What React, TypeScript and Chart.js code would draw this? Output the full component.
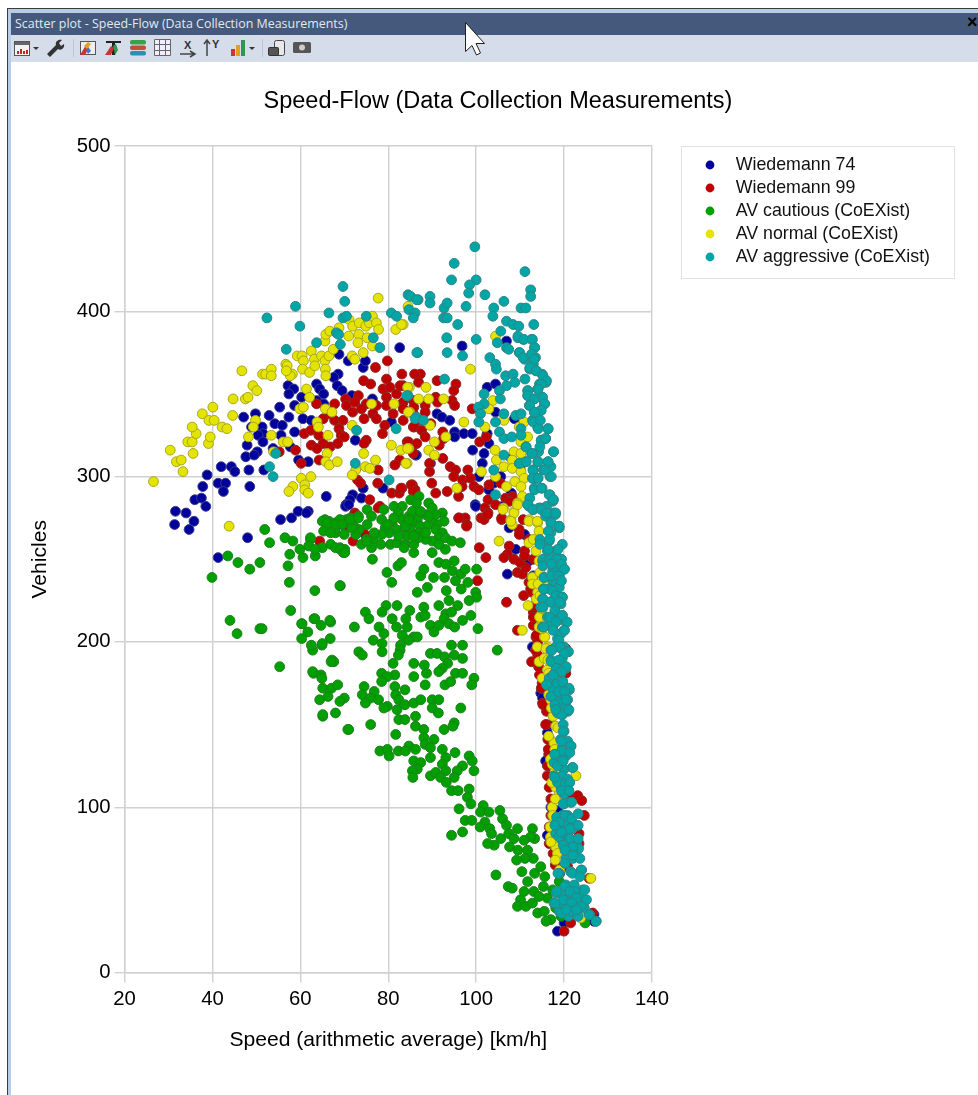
import React, { useEffect, useRef } from "react";
import { Chart, registerables } from "chart.js";

Chart.register(...registerables);

const chartTitle = "Speed-Flow (Data Collection Measurements)";
const windowTitle = "Scatter plot - Speed-Flow (Data Collection Measurements)";
const xAxisTitle = "Speed (arithmetic average) [km/h]";
const yAxisTitle = "Vehicles";
const seriesNames = ["Wiedemann 74", "Wiedemann 99", "AV cautious (CoEXist)", "AV normal (CoEXist)", "AV aggressive (CoEXist)"];

type P = [number, number];

const wiedemann74: P[] = [
[47.1,336],[49.8,338],[48.9,330],[52.9,337],[54.2,332],[51.3,330],[55.9,331],[55.3,342],[51.5,326],[50.4,325],[47.9,319],[51.5,321],[50.2,315],[47.6,312],[49.5,313],[58.7,327],[55.6,325],[53.8,317],[57.7,318],[59.6,310],[61.8,309],[57.2,355],[58.5,353],[57.4,350],[60.3,348],[58.7,343],[57.4,336],[60.6,335],[62.5,334],[63.7,356],[64.4,353],[65.3,350],[63.7,346],[65.3,344],[68.6,362],[67.6,360],[68.4,355],[69.5,352],[68.8,374],[70.9,370],[74.3,366],[74.8,370],[82.6,378],[71.7,349],[76.4,347],[42,306],[44.3,306],[45.1,303],[48.3,304],[51.7,304],[38.8,301],[41.3,296],[43,296],[42.5,291],[48.5,294],[37.8,294],[36,286],[37.5,287],[38.5,282],[31.6,279],[34,278],[35.8,273],[31.4,271],[34.7,268],[55.5,274],[58,275],[59.5,279],[61.8,279],[65.9,288],[71.9,289],[73.9,287],[71.3,286],[70.4,283],[78.8,293],[74.3,293],[72.5,322],[80.7,333],[86.4,313],[41.3,251],[48,263],[106.9,382],[96.8,379],[102.5,354],[104.4,356],[91.1,338],[92.2,336],[94,334],[95.1,327],[95.1,324],[97.2,326],[99.1,326],[99.2,316],[86.2,313],[89.6,308],[101.8,314],[101.4,308],[100.6,300],[105.6,300],[99.8,283],[102.9,292],[104.4,339],[108.7,335],[102.9,320],[102.5,326],[61.4,278],[70.3,282],[71,283],[99.9,282],[107.1,241],[107.5,269],[109,256],[112,249],[112.8,197],[114.7,169],[115.1,166],[116.2,145],[115.8,128],[118.5,98],[116.2,83],[118.5,73],[118.5,25],[120,30],[126.8,31],[126.8,35],[108,311],[110,305],[104,296],[108,290],[106,282],[111,265],[113,240],[115,210],[117,150],[118,115],[117,100],[119,60],
];

const wiedemann99: P[] = [
[77.1,366],[79.8,370],[74.4,358],[76,356],[79.6,359],[83.1,362],[87.3,362],[78.8,353],[80.4,354],[83.4,355],[81.9,350],[79.6,348],[73.2,349],[70.3,347],[70.5,343],[67.8,344],[72.4,345],[75,344],[77.3,343],[79.6,343],[83.4,345],[85.7,346],[66.7,338],[67.8,334],[65.2,335],[69.7,334],[71.9,339],[73.9,341],[76.5,338],[74.5,335],[77.3,335],[79.2,331],[81.1,338],[83.4,334],[85.7,338],[68.8,329],[69.3,325],[70,324],[78.7,326],[85.7,330],[60.9,326],[62.4,328],[64.2,325],[65.2,320],[63.7,344],[62.5,319],[63.8,317],[66.8,318],[68.5,320],[75,322],[74.5,320],[58.9,316],[55.2,315],[64.3,310],[60.2,308],[84.3,321],[85.5,318],[82.6,310],[81.5,307],[85.7,314],[77.7,304],[73,298],[73.7,296],[77.6,296],[80.8,290],[82.5,290],[83.1,293],[85.5,295],[86.1,292],[75.8,286],[78.1,282],[72.4,278],
[86,362],[91.1,358],[86.9,357],[95.4,356],[94.9,352],[82.7,355],[90.8,348],[94.5,346],[95.1,343],[91.2,345],[88.4,343],[85.8,342],[83.4,341],[88.4,339],[87.5,334],[89.7,332],[99.1,341],[85.9,330],[87.6,328],[88.4,324],[92.4,327],[92.6,323],[84.6,321],[86.5,320],[100.8,321],[102.3,324],[91.6,319],[89.4,308],[92.4,311],[89.4,303],[94.1,306],[95.3,304],[98.1,304],[94.9,300],[89.9,296],[96.9,298],[98.7,299],[96.8,294],[99.5,294],[100.6,292],[102.9,295],[105.6,296],[82.9,293],[85.2,295],[85.7,291],[90.8,290],[93.4,291],[96,288],[102.7,286],[102,281],[102.7,278],[101.1,275],[104.4,283],[105.8,275],[106.7,287],[108.2,288],[107.5,285],[96,275],[97.5,275],[97.9,271],[110.7,274],[109.8,268],
[96.1,275],[97.8,270],[101.8,274],[102.6,277],[105.8,274],[107.5,258],[107.1,253],[106.3,251],[108.6,250],[109.4,242],[110.5,241],[109.8,265],[111.3,245],[100.7,257],[102.2,251],[100.3,237],[106.9,224],[110.8,228],[112.4,232],[113.8,223],[113.9,215],[109.4,207],[113.6,203],[112.6,188],[114.7,180],[115.1,163],[116.6,142],[116.2,119],[123.1,107],[64.4,261],[72,261],[70.4,269],[72.3,277],[77.7,281],[74.7,265],[120,25],[121.5,30],[126.5,36],[124.6,95],[123.4,84],[123.4,78],[120.8,64],[121,108],[120.4,196],[120.4,181],[125.7,57],
[111,255],[110,248],[112,236],[113,218],[113,210],[114,200],[114,192],[115,175],[116,158],[116,150],[116.5,132],[117,125],[112,262],[113,250],[111,252],
[112.6,238],[113.3,222],[113.7,204],[114.4,180],[115.2,162],[116.3,141],[112.7,230],[113,215],[113.5,195],[114.2,185],[114.8,172],[115.8,150],[116.4,135],[116.2,125],[116.6,112],[117,105],[117,95],[116.6,88],[116.6,78],[117.5,72],[118,65],[124,104],
];

const avCautious: P[] = [
[66.9,267],[68,266],[66.5,273],[67.9,272],[69.4,272],[70.5,274],[71.4,275],[73.2,276],[75.2,280],[76.2,276],[75.2,271],[73.3,268],[72.2,270],[72.6,265],[75,262],[76.6,262],[78.5,274],[79,280],[81.3,282],[83.2,282],[85.1,286],[87,288],[86.4,284],[89.2,284],[90,281],[92.3,278],[92.7,273],[91.1,271],[88.5,277],[86.6,274],[84.7,276],[82.3,278],[80.9,272],[83.2,274],[85.5,272],[87.3,270],[89.2,271],[90.8,268],[92.3,266],[91.5,263],[90,261],[88.5,262],[87,266],[85,268],[83.6,269],[81.7,268],[80.2,266],[79.3,269],[78.5,265],[76.8,266],[78.3,259],[76.2,257],[73.9,259],[75.1,261],[80.5,259],[82,260],[83.9,259],[85.8,259],[83.6,257],[85.8,254],[86.8,263],[90,254],[93,263],[94.5,261],[96.4,260],[93,256],[91.5,259],[76.4,250],[66.9,259],[69,257],[69.8,254],[90,275],[85.5,279],[84.3,264],[82.4,264],[88.5,266],[90.8,277],[87.3,279],[89.2,276],[81.3,275],[79.8,271],[85.8,264],[83.9,270],[84.7,274],
[79.7,242],[80.8,236],[82.2,246],[83,248],[86.6,230],[88.9,233],[87.4,240],[88.1,244],[90.3,239],[91.5,248],[93.1,247],[95,249],[94.6,243],[96.5,241],[97.5,244],[92.8,239],[95.3,237],[96.6,232],[98.1,236],[100.1,244],[93.2,231],[99.9,230],[100.1,227],[98.4,225],[93.8,225],[95.8,222],[91.5,222],[88.1,221],[82,222],[79.5,222],[74.8,218],[78.6,218],[75.6,214],[80.9,214],[84.9,219],[84,214],[87.4,215],[88.4,216],[93.1,217],[94.4,218],[92.7,214],[98.8,216],[96.9,213],[89.6,210],[91.5,210],[90.4,206],[93.8,211],[95.1,209],[100.4,208],[77.9,209],[81.9,209],[84.3,209],[79,205],[83.2,204],[85.8,203],[86.6,203],[76.6,201],[78.6,199],[84.6,201],[82.8,198],[82.7,195],[82.3,192],[78.6,194],[94.4,198],[96.9,198],[104.8,195],[89.6,193],[91.1,193],[92.8,191],[95,192],[96.9,190],[93.5,187],[92.3,184],[91.5,182],[95.3,181],[96.9,181],[85.8,187],[88.2,186],[88.7,181],[85.8,179],[81.1,187],[81.5,180],[78.5,181],[79.8,179],[78.5,176],[88.4,174],[92.9,174],[94.2,176],[99.5,178],[99,174],[81.5,173],[83.8,171],[74.5,173],[76.8,170],[74.1,168],[76,166],[77.8,165],[74.8,163],[81.7,168],[82.4,165],[83.8,162],[85.8,163],[87.4,165],[90,165],[91.5,165],[90,160],[91.4,157],[79.8,161],[79,160],[82,159],[82.4,153],[83.8,153],[86.2,155],[86.2,149],[88.1,147],[92.7,147],[95,151],[94.7,149],[96.5,160],[81.7,144],[76,150],[70.8,147],[65.1,155],[68,157],[64.4,165],[70,166],[65.1,172],[67.1,172],[68.5,174],[63,181],[64.7,180],[67.2,189],[67.6,188],[62.8,195],[64.9,198],[66.8,202],[61.7,206],[60.4,211],[63.1,214],[66.9,212],[72.3,209],[73.3,194],[74.1,192],[69.1,234],
[88.1,142],[90.4,141],[88.4,138],[78.1,134],[79.8,135],[80.2,131],[82.3,134],[84.7,137],[83.9,134],[86.2,135],[85.8,128],[87.4,127],[86.6,123],[85.5,122],[85.6,118],[89.6,136],[89.6,130],[92.3,135],[93.1,130],[95.2,133],[98.4,131],[99.1,128],[99.5,122],[96.9,125],[95.7,122],[92.3,126],[89.6,119],[90.8,121],[93.1,122],[95,118],[91.9,118],[93.2,115],[94.4,110],[95.9,110],[98.4,111],[98,106],[98.8,102],[96.1,99],[101.6,101],[101,97],[102.9,97],[105.4,98],[106,93],[97.5,92],[99,92],[102,91],[100.9,88],[103.1,87],[103.5,84],[106.9,89],[109.4,87],[107.4,84],[105.6,81],[104.1,77],[102.6,78],[108.6,81],[107.6,76],[96.9,85],[94.4,83],[112.8,87],[113.3,81],[112.4,82],[110.9,80],[109.5,74],[111.7,74],[113,69],[111.1,69],[109.2,68],[110.4,61],[113.3,60],[114.7,64],[115.6,58],[104.5,59],[107.3,52],[108.2,51],[111.7,55],[110.9,49],[113.1,49],[115.3,52],[110.1,44],[109.4,40],[111.3,40],[112.8,42],[114,36],[115.5,37],[116.2,45],[117.4,50],[117,32],[115.9,31],[119.3,34],[118.9,55],[124.8,30],[118.1,39],[114.3,46],
[39.9,239],[43.5,252],[45.8,248],[48.5,244],[51.9,268],[53,260],[50.8,248],[56.5,263],[58.3,261],[57.6,253],[57.2,246],[57.5,236],[63.3,231],[69,234],[44,213],[45.6,205],[50.8,208],[51.3,208],[55.3,185],[57.8,219],[60.3,211],[63.3,214],[60.3,202],[64.7,210],[66.7,213],[62.5,198],[65,199],[67,188],[62.8,182],[64.9,178],[66.3,167],[65.1,156],[69,164],[71,147],[65.6,274],[69,274],[67.9,268],[70.1,256],[62.3,262],[65,257],[59.9,256],[68,257],[70,265],[71.7,269],[65,273],[66.1,272],[68,271],[69.5,271],[71.4,274],[73.2,275],[65.3,267],[66.9,266],[69.1,256],[70.1,254],[60.6,251],[63.4,252],[62.3,263],[61.9,258],[63.4,256],
];

const avNormal: P[] = [
[26.6,297],[30.4,316],[31.8,309],[32.9,310],[33.3,303],[34.4,321],[35.4,321],[35.6,314],[39.1,320],[39.5,324],[36.3,326],[35.4,330],[37.7,338],[39.2,334],[40.4,334],[40.1,342],[42.2,330],[43.3,329],[44.6,337],[44.7,347],[47.5,347],[48.1,348],[46.7,364],[49.2,355],[50.1,352],[51.4,362],[52.1,362],[53.4,365],[53.4,361],[48.2,324],[49.8,334],[49.3,330],[53.4,325],[56.1,321],[57.1,321],[53.9,315],[56.7,368],[57,367],[58.2,362],[57.7,361],[56.8,364],[59.3,373],[60.4,373],[60.7,370],[62.5,376],[60.5,365],[62.1,363],[63.2,371],[63.3,367],[64.8,373],[65.6,370],[66.5,373],[67.5,377],[65.6,382],[65.8,386],[66.7,388],[68.8,390],[71.1,395],[71.9,391],[73.4,393],[74.9,391],[75.7,393],[76.4,397],[77.3,393],[77.8,389],[71,385],[73.3,386],[75.2,384],[73.1,381],[76.4,379],[74.3,375],[71.8,373],[72.4,371],[65.7,365],[65.8,361],[77.7,408],[81.7,389],[83.4,392],[84.5,403],[61.4,353],[62.1,348],[59.9,341],[60.7,342],[65.7,341],[67.2,339],[63.8,333],[64.1,330],[66.3,325],[76.2,344],[81.3,344],[84.8,354],[84.9,339],[71.8,331],[66.1,314],[65.8,309],[66.6,307],[68.4,309],[74.4,314],[80.7,319],[82.9,316],[84.7,317],[84.3,308],[77.1,310],[74.8,306],[75.8,305],[72.6,304],[71.8,301],[60.2,299],[62.4,300],[58.3,294],[57.4,291],[61,295],[61,292],[61.8,290],[43.8,270],
[83,392],[98.7,365],[104.4,385],[88.6,354],[84.4,354],[86.9,347],[89.2,347],[92.6,347],[84.6,339],[97.2,333],[102,330],[89.5,331],[93.1,324],[90.5,321],[89.2,316],[84.4,317],[90.5,313],[84,308],[103.8,346],[102.9,341],[106.3,334],[104.3,316],[104.6,310],[108.6,315],[110.2,314],[108.2,310],[106.3,306],[108.2,305],[101.2,303],[104.4,300],[110.2,303],[110.9,299],[108.8,297],[106.9,294],[110.2,294],[95.6,293],[110.5,288],[109.4,284],[106.2,281],[108.6,279],[107.9,274],[112.1,274],[108.2,271],[114,272],[109.8,330],[110.9,333],[110.2,321],[111.7,324],
[106.1,280],[108.6,278],[109.4,283],[107.9,273],[112,273],[113.9,273],[114.3,267],[112,260],[113.6,255],[114.3,249],[112.8,239],[112.8,235],[115.8,235],[105.2,261],[111.8,222],[113.7,226],[114.7,216],[114.3,209],[110.5,207],[115.5,203],[113.9,197],[116.2,197],[114.3,188],[116.2,183],[116.2,174],[117,165],[118.1,149],[117.7,139],[116.9,129],[122.7,119],[118.1,112],[118.9,108],[117.7,92],[116.9,82],[118.1,76],[126.1,57],[123.8,33],[118.5,72],[118,122],[117.5,155],[116.5,168],[115,178],[115.5,190],[115,212],[114,230],[114.5,242],[113,262],[116.5,143],[117.3,100],[117.5,88],
[114.1,235],[113.7,226],[114.4,215],[115.6,203],[116.3,189],[116.7,173],[117.5,155],[118.6,148],[114.5,228],[115,220],[115,208],[115.9,196],[116.5,181],[117.1,160],[117.9,135],[117.3,126],[117.2,115],[118,105],[117.4,95],[116.8,88],[117,79],[118,68],[119,62],
];

const avAggressive: P[] = [
[69.7,415],[70.1,406],[58.9,403],[52.4,396],[59.9,391],[66.5,399],[69.7,396],[70.5,397],[75,397],[68.2,387],[68.7,386],[69.1,380],[63.7,381],[56.8,377],[76.6,384],[78.1,378],[80.7,399],[81.9,397],[84.5,410],[85.1,409],[86.8,407],[84.7,401],[86.1,399],[85.7,396],[86.7,375],[84.5,349],[86.4,336],[72.8,328],[81.8,329],[54.4,314],[53,306],[53.8,300],[72.5,308],[80.2,298],
[99.7,439],[95,429],[94.4,419],[100,419],[98.5,416],[98.3,411],[111.1,424],[112.4,413],[112.4,409],[102,410],[106.3,406],[89.5,409],[89.5,405],[86.5,407],[92.7,402],[93.4,405],[97.7,403],[104,402],[103.8,397],[110.2,402],[111.3,402],[92.6,396],[93.4,396],[95.8,392],[106.9,394],[108.4,392],[109.7,391],[113.1,392],[105.6,388],[93.3,384],[100,383],[104.8,381],[106.9,378],[107.4,377],[109.5,384],[110.7,383],[112.6,383],[93.4,375],[86.5,375],[96.9,373],[103.1,372],[104.4,368],[104.6,365],[109.8,375],[111,371],[113.3,378],[113.5,372],[113,368],[112.2,365],[113.6,364],[115,362],[92.8,359],[106.7,361],[108.4,362],[108.8,357],[111.1,359],[106.9,355],[115.9,357],[114.4,356],[114,353],[111.7,352],[105.3,352],[101.8,350],[105.5,347],[111.7,349],[84.2,349],[115,348],[113.2,347],[115.5,344],[112.1,343],[101.8,344],[100.5,342],[101,338],[106.3,338],[109,337],[110.2,338],[113.2,339],[114.7,340],[100.6,333],[104.4,333],[86.1,335],[88,334],[112.8,334],[114,330],[116.3,329],[110.2,329],[105.3,327],[106.3,323],[108.1,324],[110.2,325],[114.8,322],[115.8,323],[111.3,318],[112.6,314],[114.2,315],[117.6,315],[106.3,313],[111.3,309],[114,309],[116.3,309],[113,304],[115.3,304],[104,304],[117,306],[109.8,308],[112.8,299],[114,299],[116.8,300],[113.2,293],[115,293],[116.8,289],[117.6,286],[104.4,289],[112.2,287],[111.7,283],[113,280],[114.7,281],[116,282],[117.6,278],[116,277],[117,272],[118.8,270],
[112,282],[114.3,281],[117.4,285],[115.8,276],[118,277],[118.9,269],[114.7,260],[116.6,261],[118.1,255],[119.3,250],[115.1,249],[116.6,249],[120,244],[115.5,239],[118.1,243],[117.4,237],[118.9,240],[115.3,232],[118.1,231],[119.6,227],[115.1,226],[114.7,221],[117.4,225],[116.2,215],[119.6,216],[120.4,212],[115.1,209],[117.4,208],[120,207],[118.5,202],[120,197],[117,195],[119.3,196],[120.8,194],[117,189],[118.5,188],[120.4,184],[118.1,182],[119.3,181],[116.2,174],[117.4,177],[119.6,176],[121.2,171],[117.4,172],[117,167],[118.9,167],[120.8,165],[118.1,161],[120.9,158],[119.6,156],[120,146],[119.2,141],[121.5,137],[119.6,136],[118.1,132],[120.4,131],[117.7,127],[121.9,124],[120,123],[117.7,119],[120.4,114],[119.3,112],[121,110],[120,102],[121.5,103],[119.6,95],[118.1,90],[121.5,93],[122.7,89],[119.6,87],[118.1,84],[121,82],[122.9,79],[119.6,80],[121.5,76],[120.8,72],[123.3,75],[122,69],[118.9,60],[121.5,61],[124,62],[120.4,53],[122.3,53],[124.2,50],[118.2,48],[120,46],[117.7,42],[120.4,42],[122.3,44],[124.6,43],[118.9,37],[122.7,36],[124.6,39],[125.8,35],[127.3,31],[121,39],[121,34],
[117,266],[119.6,259],[116.2,255],[117.4,243],[116.6,232],[118.9,233],[119.3,223],[118.1,217],[118.5,213],[116.6,210],[119.3,205],[118.1,197],[119.6,190],[118.5,175],[120,172],[119.3,163],[120.4,161],[118.5,157],[120.8,140],[119.3,130],[118.5,125],[119.6,119],[118.5,115],[120.8,117],[120,108],[120.8,95],[120,91],[121.9,87],[118.9,82],[120.4,76],[122,74],[120.4,69],[119.3,48],[121.5,48],[123.4,46],[119.3,42],[123.4,39],
];

const avAggressiveUpperBand: P[] = [
[109.5,385],[110.9,383],[112.8,383],[113.3,378],[109.9,375],[110.7,372],[112.6,374],[113.2,371],[112.2,366],[113.7,364],[115.2,361],[116,358],[114.8,356],[114.1,353],[111.8,352],[111.8,349],[115.1,348],[113.3,347],[115.6,344],[112.2,343],[114.8,340],[113.3,339],[113,333],[114.6,334],[114.1,329],[116.4,329],[114.8,322],[115.8,323],[111.4,318],[114.5,318],[112.7,314],[117.6,315],[109.9,308],[111.4,309],[114.1,309],[116.4,309],[112.9,304],[115.6,304],[117.1,300],[112.9,299],[114.1,299],[113.3,292],[114.8,293],[116.6,289],[117.5,286],[111.8,283],[112.9,280],[114.8,280],[116,278],[118.1,278],[117.1,272],[118.9,270],[116.4,267],[114.5,262],[116.7,262],[114.5,259],[116.4,256],[118.6,256],[115.2,250],[116.7,250],[119.4,250],[118.3,250],
];

const avAggressiveMiddleBand: P[] = [
[115.2,246],[117.1,247],[119.4,247],[120.1,244],[115.4,239],[117.1,240],[118.8,240],[119.4,237],[115.4,232],[117.3,231],[118.2,228],[119.6,227],[115.2,226],[116.9,224],[119,224],[115.2,221],[117.9,219],[116.7,215],[119.6,216],[120.7,212],[118.2,212],[115.4,209],[117.5,207],[120.1,207],[118.8,201],[119.1,197],[117.2,195],[121,194],[120.1,193],[117.1,188],[118.8,189],[120.5,185],[118.2,184],[119.4,182],[116.6,178],[117.5,180],[119.7,176],[121.1,172],[116,174],[117.1,167],[118.8,170],[120.1,170],[117.9,162],[119.4,156],[121.1,159],[120.5,165],[118.1,159],[119.8,150],[119.8,146],[119.4,140],[121.6,137],[119.4,134],[121.3,133],[117.9,132],
];

const avAggressiveLowerBand: P[] = [
[117.9,132],[119.8,128],[122,124],[117.9,118],[120.2,114],[121.3,115],[119.4,110],[121.1,110],[119.8,102],[121.7,103],[118.3,94],[120.2,95],[121.7,93],[123.2,96],[123.2,89],[119,91],[121.3,87],[117.9,89],[119.4,85],[121.3,81],[123.2,81],[119.8,77],[122,76],[123.6,69],[122,71],[120.2,74],[120.2,66],[118.6,60],[121.9,60],[123.9,62],[123.6,58],[120.2,52],[122.4,49],[124.7,50],[118.3,49],[121.3,49],[122.8,45],[125.1,44],[119.8,44],[117.9,42],[121.7,42],[123.9,40],[119.4,36],[121.7,37],[123.2,34],[125.7,35],[127.3,31],[120.5,38],[122.8,38],
];

const fillColors = ["#00009c", "#c00000", "#00a000", "#e4e400", "#00a6a6"];
const edgeColors = ["#3a3a8a", "#8c2a2a", "#1f7f1f", "#a6a620", "#2f8585"];
const allSeries = [
  wiedemann74,
  wiedemann99,
  avCautious,
  avNormal,
  [...avAggressive, ...avAggressiveUpperBand, ...avAggressiveMiddleBand, ...avAggressiveLowerBand],
];

function dot(color: string): HTMLCanvasElement {
  const c = document.createElement("canvas");
  c.width = 10;
  c.height = 10;
  const g = c.getContext("2d")!;
  g.fillStyle = color;
  g.beginPath();
  g.arc(5, 5, 4.4, 0, Math.PI * 2);
  g.fill();
  return c;
}

const placeBoxes = {
  id: "placeBoxes",
  afterLayout(chart: any) {
    const t = chart.titleBlock;
    t.left = 26;
    t.right = 970;
    const l = chart.legend;
    l.left = 688;
    l.top = 150.9;
    l.right = 955;
    l.bottom = 279;
  },
  beforeDraw(chart: any) {
    const g = chart.ctx;
    g.save();
    g.strokeStyle = "#e2e2e2";
    g.lineWidth = 1;
    g.strokeRect(681.5, 146.5, 273, 132);
    g.restore();
  },
};

const iconStyle: React.CSSProperties = { position: "absolute", left: 0, top: 0 };

function Chrome() {
  return (
    <div style={{ position: "absolute", left: 0, top: 0, width: 978, height: 1095, overflow: "hidden" }}>
      <div style={{ position: "absolute", left: 7, top: 8, width: 971, height: 1087, background: "#3c3c3c" }} />
      <div style={{ position: "absolute", left: 8, top: 9, width: 970, height: 1086, background: "linear-gradient(90deg,#b7cde6,#e2eefa)" }} />
      <div style={{ position: "absolute", left: 8, top: 9, width: 970, height: 4, background: "#b7cde6" }} />
      <div style={{ position: "absolute", left: 11, top: 62, width: 967, height: 1033, background: "#fff" }} />
      <div style={{ position: "absolute", left: 11, top: 12.5, width: 967, height: 22, background: "#44597b", color: "#e3e8f2", font: "12.45px 'Open Sans', sans-serif", lineHeight: "21px", paddingLeft: 4, boxSizing: "border-box", whiteSpace: "nowrap" }}>{windowTitle}</div>
      <div style={{ position: "absolute", left: 11, top: 34.5, width: 967, height: 27, background: "#d5dcea" }} />
      <div style={{ position: "absolute", left: 967, top: 12, width: 11, color: "#000", font: "bold 18px 'Liberation Sans', sans-serif", lineHeight: "20px" }}>×</div>
      <svg width="978" height="70" style={iconStyle}>
        <rect x="14.5" y="41.5" width="15" height="14" fill="#f4f4f4" stroke="#555" />
        <rect x="15" y="42" width="14" height="3" fill="#666" />
        <path d="M18 54v-3M21 54v-5M24 54v-3M27 54v-4" stroke="#c22" strokeWidth="2" />
        <path d="M33 47h6l-3 3z" fill="#333" />
        <path d="M47 54l9-9c-1-3 2-6 6-5l-3 3 2 3 3-2c1 4-3 7-6 5l-8 8z" fill="#333" />
        <rect x="73" y="39" width="1" height="18" fill="#bcc4d4" />
        <rect x="80.5" y="41.5" width="15" height="13" fill="#eee" stroke="#555" />
        <path d="M80 55l6-10 3 3-4 7z" fill="#c33" />
        <path d="M84 46l4-4 3 2-4 5z" fill="#e5a020" />
        <path d="M86 50l3-2 2 3-3 3z" fill="#3a7ad0" />
        <path d="M106 41h15v2h-6v12h-3v-12h-6z" fill="#222" />
        <path d="M105 55l6-9 3 2-3 7z" fill="#c33" />
        <path d="M113 46l3-2 2 6-3 5z" fill="#2a9a4a" />
        <rect x="130" y="40" width="16" height="4.5" rx="2" fill="#3aa04c" />
        <rect x="130" y="45.5" width="16" height="4.5" rx="2" fill="#c05038" />
        <rect x="130" y="51" width="16" height="4.5" rx="2" fill="#2c90b0" />
        <path d="M154.5 39.5h16v16h-16zM154.5 44.5h16M154.5 50.5h16M159.5 39.5v16M165.5 39.5v16" fill="#eef" stroke="#666" />
        <text x="184" y="49" fontFamily="Liberation Sans" fontWeight="bold" fontSize="11" fill="#333">X</text>
        <path d="M180 54h14M190 51l5 3-5 3" stroke="#444" strokeWidth="1.5" fill="none" />
        <text x="212" y="48" fontFamily="Liberation Sans" fontWeight="bold" fontSize="11" fill="#333">Y</text>
        <path d="M207 56v-15M204 44l3-4 3 4" stroke="#444" strokeWidth="1.5" fill="none" />
        <rect x="231" y="49" width="4" height="7" fill="#c33" />
        <rect x="236" y="45" width="4" height="11" fill="#e0a020" />
        <rect x="241" y="40" width="4" height="16" fill="#2a9a4a" />
        <path d="M249 47h6l-3 3z" fill="#333" />
        <rect x="262" y="39" width="1" height="18" fill="#bcc4d4" />
        <rect x="274.5" y="40.5" width="10" height="15" rx="2" fill="#e8e8e8" stroke="#444" />
        <rect x="268.5" y="47.5" width="10" height="8" rx="1" fill="#555" stroke="#333" />
        <rect x="293" y="42" width="18" height="11" rx="1.5" fill="#555" />
        <circle cx="302" cy="47.5" r="3" fill="#ccc" />
      </svg>
      <svg width="978" height="70" style={iconStyle}>
        <path d="M465.5 22.5v29l6.5-6 4.5 9.5 4-2-4.5-9.5h8.5z" fill="#fff" stroke="#222" strokeWidth="1" />
      </svg>
    </div>
  );
}

export default function App() {
  const ref = useRef<HTMLCanvasElement>(null);
  useEffect(() => {
    const gridColor = "#d0d0d0";
    const tickFont = { family: "'Liberation Sans', Arial, sans-serif", size: 20.3 };
    const axisFont = { family: "'Liberation Sans', Arial, sans-serif", size: 21.1 };
    const chart = new Chart(ref.current!, {
      type: "scatter",
      data: {
        datasets: allSeries.map((pts, i) => ({
          label: seriesNames[i],
          data: pts.map(([x, y]) => ({ x, y })),
          backgroundColor: fillColors[i],
          borderColor: edgeColors[i],
          borderWidth: 1,
          pointRadius: 4.9,
          order: allSeries.length - i,
        })),
      },
      options: {
        animation: false,
        responsive: false,
        layout: { padding: { left: 0, top: 0, right: 326, bottom: 0 } },
        scales: {
          x: {
            type: "linear",
            min: 20,
            max: 140,
            afterFit: (s: any) => { s.height = 122.5; },
            ticks: { stepSize: 20, color: "#000", font: tickFont, padding: 5, maxRotation: 0 },
            grid: { color: gridColor, lineWidth: 1.4, tickLength: 10, tickColor: gridColor },
            border: { color: gridColor, width: 1.4 },
            title: { display: true, text: xAxisTitle, color: "#000", font: axisFont, padding: { top: 0, bottom: 42 } },
          },
          y: {
            min: 0,
            max: 500,
            afterFit: (s: any) => { s.width = 124.5; },
            ticks: { stepSize: 100, color: "#000", font: tickFont, padding: 4 },
            grid: { color: gridColor, lineWidth: 1.4, tickLength: 10, tickColor: gridColor },
            border: { color: gridColor, width: 1.4 },
            title: { display: true, text: yAxisTitle, color: "#000", font: axisFont, padding: { top: 28, bottom: 0 } },
          },
        },
        plugins: {
          tooltip: { enabled: false },
          title: {
            display: true,
            text: chartTitle,
            color: "#000",
            font: { family: "'Liberation Sans', Arial, sans-serif", size: 23.5, weight: "normal" },
            padding: { top: 87, bottom: 30.8 },
          },
          legend: {
            position: "chartArea",
            align: "start",
            labels: {
              usePointStyle: true,
              pointStyleWidth: 33.6,
              boxHeight: 6.4,
              padding: 5.2,
              color: "#111",
              font: { family: "'Liberation Sans', Arial, sans-serif", size: 17.8 },
              generateLabels: (c: any) =>
                Chart.defaults.plugins.legend.labels.generateLabels(c)
                  .sort((a: any, b: any) => a.datasetIndex - b.datasetIndex)
                  .map((it: any) => ({ ...it, pointStyle: dot(fillColors[it.datasetIndex]), lineWidth: 0 })),
            },
          },
        },
      } as any,
      plugins: [placeBoxes],
    });
    return () => chart.destroy();
  }, []);
  return (
    <div style={{ position: "absolute", left: 0, top: 0, width: 978, height: 1095, overflow: "hidden" }}>
      <Chrome />
      <canvas ref={ref} width={978} height={1095} style={{ position: "absolute", left: 0, top: 0, width: 978, height: 1095 }} />
    </div>
  );
}
